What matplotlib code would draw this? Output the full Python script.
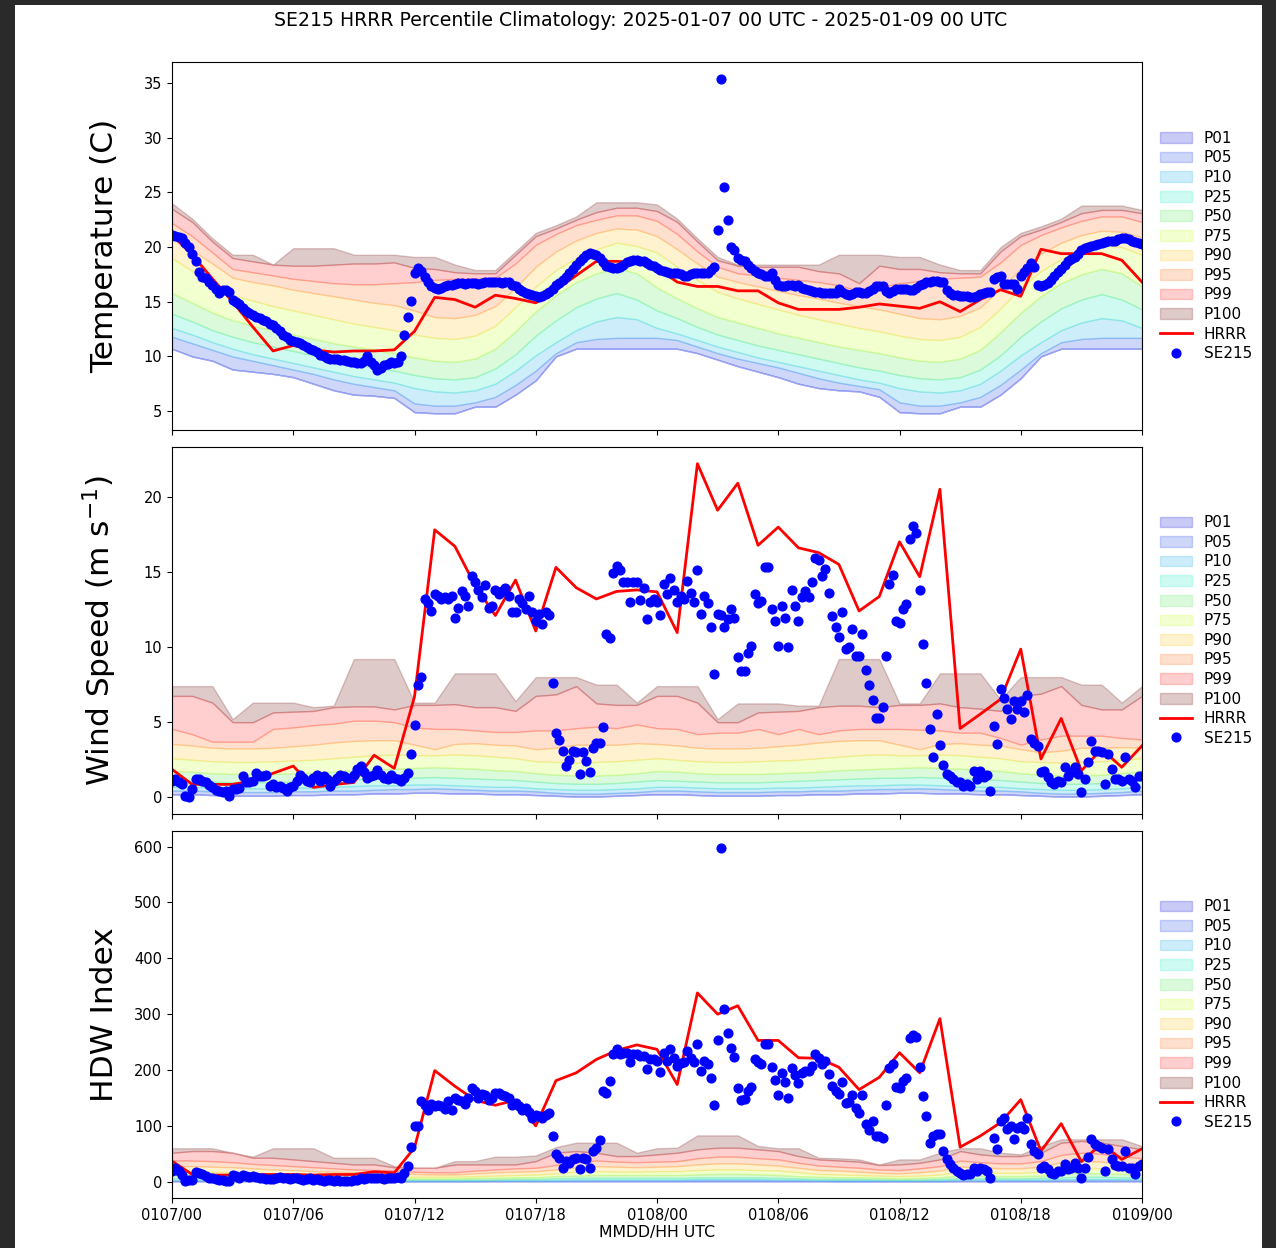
import numpy as np
import matplotlib.pyplot as plt
import matplotlib.dates as mdates
from matplotlib.patches import Rectangle

# SE215 HRRR percentile climatology, 2025-01-07 00 UTC to 2025-01-09 00 UTC.
# Climatology and HRRR are hourly (49 values), station obs every 10 minutes (289 values).

start = np.datetime64('2025-01-07T00:00')
hours = start + np.arange(49) * np.timedelta64(1, 'h')
obs_times = start + np.arange(289) * np.timedelta64(10, 'm')

pct_names = ['P01', 'P05', 'P10', 'P25', 'P50', 'P75', 'P90', 'P95', 'P99', 'P100']
pct_colors = ['#1010d8', '#2448ea', '#24b0ea', '#24eac4', '#5cea5c',
              '#c4ff24', '#ffc424', '#ff7424', '#ff2424', '#701010']

# ---- temperature (C) ----
temp_p01 = [10.7, 10.0, 9.6, 8.8, 8.6, 8.4, 8.1, 7.5, 6.9, 6.5, 6.4, 6.2, 4.9, 4.8, 4.8, 5.4, 5.4, 6.5, 7.8, 10.0, 10.7, 10.7, 10.7, 10.7, 10.7,
            10.7, 10.3, 9.7, 9.1, 8.6, 8.1, 7.5, 7.1, 6.9, 6.8, 6.3, 4.9, 4.8, 4.8, 5.4, 5.4, 6.5, 8.0, 10.0, 10.7, 10.7, 10.7, 10.7, 10.7]
temp_p05 = [11.8, 11.2, 10.6, 10.0, 9.6, 9.2, 8.8, 8.4, 7.9, 7.5, 7.2, 6.9, 5.7, 5.5, 5.5, 5.8, 6.3, 7.4, 8.7, 10.3, 11.3, 11.6, 11.7, 11.7, 11.7,
            11.5, 10.9, 10.3, 9.8, 9.4, 9.0, 8.5, 8.0, 7.6, 7.3, 7.0, 5.8, 5.5, 5.5, 5.8, 6.3, 7.4, 8.8, 10.3, 11.3, 11.6, 11.7, 11.7, 11.7]
temp_p10 = [12.6, 12.0, 11.3, 10.7, 10.2, 9.8, 9.4, 9.0, 8.6, 8.2, 7.9, 7.6, 7.1, 6.8, 6.7, 6.9, 7.5, 8.7, 10.1, 11.3, 12.4, 13.2, 13.6, 13.4, 12.6,
            12.1, 11.5, 10.9, 10.4, 9.9, 9.5, 9.1, 8.7, 8.3, 7.9, 7.6, 7.1, 6.8, 6.7, 6.9, 7.5, 8.7, 10.1, 11.3, 12.4, 13.1, 13.5, 13.3, 12.6]
temp_p25 = [13.9, 13.2, 12.4, 11.8, 11.3, 10.9, 10.5, 10.1, 9.7, 9.3, 9.0, 8.7, 8.3, 8.0, 7.9, 8.1, 8.9, 10.2, 11.9, 13.3, 14.5, 15.3, 15.8, 15.2, 14.2,
            13.5, 12.7, 12.0, 11.5, 11.0, 10.6, 10.2, 9.8, 9.4, 9.0, 8.7, 8.3, 8.0, 7.9, 8.1, 8.8, 10.1, 11.8, 13.2, 14.4, 15.2, 15.7, 15.2, 14.3]
temp_p50 = [15.8, 14.9, 14.0, 13.3, 12.8, 12.4, 12.0, 11.6, 11.2, 10.9, 10.6, 10.3, 9.9, 9.6, 9.5, 9.8, 10.7, 12.3, 14.1, 15.6, 16.8, 17.6, 18.1, 17.6, 16.3,
            15.3, 14.4, 13.6, 13.1, 12.6, 12.1, 11.7, 11.3, 10.9, 10.6, 10.3, 9.9, 9.6, 9.5, 9.8, 10.6, 12.2, 14.0, 15.5, 16.7, 17.5, 18.0, 17.6, 16.4]
temp_p75 = [19.0, 17.8, 16.6, 15.6, 15.1, 14.6, 14.2, 13.8, 13.4, 13.0, 12.7, 12.4, 12.0, 11.7, 11.6, 11.9, 12.8, 14.5, 16.4, 17.9, 19.0, 19.8, 20.4, 20.1, 19.5,
            18.2, 17.0, 15.9, 15.3, 14.8, 14.3, 13.8, 13.4, 13.0, 12.6, 12.3, 11.9, 11.6, 11.5, 11.8, 12.7, 14.4, 16.3, 17.8, 18.9, 19.7, 20.2, 20.0, 19.3]
temp_p90 = [20.9, 19.7, 18.5, 17.2, 16.8, 16.5, 16.1, 15.8, 15.5, 15.2, 14.9, 14.7, 14.2, 13.6, 13.5, 13.8, 14.6, 16.3, 18.2, 19.6, 20.6, 21.3, 21.7, 21.6, 21.0,
            19.8, 18.5, 17.3, 16.8, 16.4, 16.0, 15.6, 15.3, 14.9, 14.6, 14.3, 13.9, 13.5, 13.4, 13.7, 14.5, 16.2, 18.0, 19.4, 20.4, 21.1, 21.5, 21.4, 20.9]
temp_p95 = [22.2, 21.0, 19.5, 18.0, 17.7, 17.4, 17.1, 16.9, 16.7, 16.6, 16.6, 16.7, 16.8, 17.0, 17.1, 17.1, 17.2, 18.5, 20.2, 21.2, 22.0, 22.5, 22.9, 22.9, 22.4,
            21.2, 19.6, 18.2, 17.6, 17.4, 17.2, 17.0, 16.8, 16.5, 16.0, 16.3, 16.7, 16.9, 17.1, 17.2, 17.3, 18.6, 20.2, 21.1, 21.8, 22.4, 22.8, 22.8, 22.3]
temp_p99 = [23.5, 22.3, 20.5, 19.0, 18.7, 18.4, 18.3, 18.3, 18.4, 18.5, 18.5, 18.6, 18.1, 18.0, 17.7, 17.6, 17.6, 19.3, 21.0, 21.7, 22.5, 23.2, 23.6, 23.6, 23.3,
            22.3, 20.5, 18.8, 18.3, 18.2, 18.2, 18.2, 17.8, 17.6, 16.7, 18.3, 18.0, 18.0, 17.7, 17.6, 17.6, 19.6, 21.0, 21.6, 22.3, 23.1, 23.4, 23.4, 23.1]
temp_p100 = [24.0, 22.6, 20.8, 19.3, 19.3, 18.4, 19.9, 19.9, 19.9, 19.3, 19.3, 19.3, 19.1, 19.1, 18.4, 17.9, 17.9, 19.6, 21.3, 22.0, 22.8, 24.1, 24.1, 24.1, 23.9,
             22.6, 20.8, 19.1, 18.4, 18.4, 18.4, 18.4, 18.4, 19.3, 19.3, 19.3, 19.1, 19.1, 18.4, 17.9, 17.9, 20.0, 21.3, 21.9, 22.6, 23.8, 23.8, 23.8, 23.4]
temp_hrrr = [21.1, 19.3, 17.1, 15.0, 12.7, 10.5, 11.0, 10.6, 10.4, 10.5, 10.5, 10.6, 12.3, 15.4, 15.2, 14.5, 15.6, 15.3, 14.9, 16.1, 17.4, 18.7, 18.7, 18.6, 18.1,
             16.8, 16.4, 16.4, 16.0, 16.0, 14.9, 14.3, 14.3, 14.3, 14.5, 14.8, 14.6, 14.4, 15.0, 14.1, 15.2, 16.1, 15.5, 19.8, 19.4, 19.4, 19.4, 18.8, 16.8]
temp_obs = [
    21.1, 21.0, 20.9, 20.8, 20.4, 20.0,  19.4, 18.7, 17.7, 17.3, 17.2, 16.8,
    16.5, 16.2, 15.8, 16.1, 16.1, 15.9,  15.2, 15.0, 14.8, 14.4, 14.2, 14.0,
    13.8, 13.6, 13.5, 13.3, 13.2, 13.0,  12.9, 12.6, 12.3, 12.0, 11.8, 11.5,
    11.4, 11.3, 11.2, 11.0, 10.9, 10.7,  10.6, 10.4, 10.1, 10.0, 9.9, 9.8,
    9.8, 9.8, 9.7, 9.7, 9.6, 9.5,  9.5, 9.4, 9.4, 9.6, 10.0, 9.5,
    9.2, 8.8, 8.9, 9.2, 9.3, 9.5,  9.4, 9.5, 10.0, 12.0, 13.6, 15.1,
    17.6, 18.05, 17.8, 17.3, 16.8, 16.4,  16.3, 16.2, 16.3, 16.4, 16.5, 16.5,
    16.6, 16.7, 16.7, 16.6, 16.7, 16.7,  16.7, 16.6, 16.7, 16.8, 16.8, 16.8,
    16.8, 16.8, 16.7, 16.8, 16.8, 16.5,  16.4, 16.2, 16.0, 15.8, 15.7, 15.6,
    15.5, 15.45, 15.5, 15.7, 15.9, 16.2,  16.5, 16.7, 17.0, 17.3, 17.6, 18.0,
    18.4, 18.7, 19.0, 19.3, 19.5, 19.4,  19.3, 19.0, 18.6, 18.3, 18.2, 18.1,
    18.1, 18.2, 18.4, 18.6, 18.7, 18.8,  18.8, 18.7, 18.7, 18.5, 18.4, 18.3,
    18.05, 17.9, 17.8, 17.7, 17.6, 17.6,  17.6, 17.5, 17.4, 17.4, 17.5, 17.6,
    17.6, 17.6, 17.6, 17.6, 17.9, 18.2,  21.6, 35.4, 25.5, 22.5, 20.0, 19.7,
    19.0, 18.8, 18.7, 18.4, 18.05, 17.8,  17.6, 17.5, 17.4, 17.4, 17.6, 17.0,
    16.5, 16.4, 16.4, 16.5, 16.5, 16.4,  16.5, 16.3, 16.2, 16.1, 16.0, 15.9,
    15.9, 15.8, 15.8, 15.8, 15.8, 15.8,  16.2, 15.9, 15.7, 15.6, 15.7, 15.9,
    15.9, 15.8, 15.8, 16.0, 16.2, 16.4,  16.4, 16.4, 16.0, 15.8, 16.0, 16.2,
    16.2, 16.2, 16.2, 16.1, 16.1, 16.3,  16.5, 16.6, 16.8, 16.8, 16.9, 16.9,
    16.8, 16.8, 16.1, 15.8, 15.6, 15.6,  15.55, 15.5, 15.5, 15.4, 15.4, 15.5,
    15.7, 15.8, 15.85, 15.9, 17.1, 17.3,  17.4, 16.6, 16.6, 16.6, 16.6, 16.2,
    17.4, 17.7, 18.05, 18.5, 18.2, 16.5,  16.4, 16.5, 16.7, 17.0, 17.4, 17.7,
    18.0, 18.35, 18.7, 18.9, 19.1, 19.4,  19.7, 19.9, 20.0, 20.1, 20.2, 20.3,
    20.4, 20.5, 20.6, 20.6, 20.6, 20.7,  20.8, 20.8, 20.7, 20.6, 20.5, 20.4,
    20.3]

# ---- wind speed (m s-1) ----
wind_p01 = [0.2, 0.2, 0.15, 0.1, 0.1, 0.1, 0.15, 0.15, 0.2, 0.2, 0.25, 0.25, 0.3, 0.3, 0.25, 0.25, 0.2, 0.2, 0.15, 0.1, 0.05, 0.05, 0.1, 0.15, 0.2,
            0.2, 0.15, 0.1, 0.1, 0.1, 0.15, 0.15, 0.2, 0.2, 0.25, 0.25, 0.3, 0.3, 0.25, 0.25, 0.2, 0.2, 0.15, 0.1, 0.05, 0.05, 0.1, 0.15, 0.2]
wind_p05 = [0.45, 0.45, 0.4, 0.35, 0.35, 0.35, 0.4, 0.4, 0.45, 0.45, 0.5, 0.55, 0.55, 0.6, 0.55, 0.5, 0.45, 0.45, 0.4, 0.3, 0.25, 0.25, 0.3, 0.35, 0.45,
            0.45, 0.4, 0.35, 0.35, 0.35, 0.4, 0.4, 0.45, 0.45, 0.5, 0.55, 0.55, 0.6, 0.55, 0.5, 0.45, 0.45, 0.4, 0.3, 0.25, 0.25, 0.3, 0.35, 0.45]
wind_p10 = [0.7, 0.7, 0.65, 0.6, 0.6, 0.6, 0.65, 0.65, 0.7, 0.75, 0.8, 0.8, 0.85, 0.85, 0.8, 0.75, 0.7, 0.7, 0.6, 0.55, 0.5, 0.5, 0.55, 0.6, 0.7,
            0.7, 0.65, 0.6, 0.6, 0.6, 0.65, 0.65, 0.7, 0.75, 0.8, 0.8, 0.85, 0.85, 0.8, 0.75, 0.7, 0.7, 0.6, 0.55, 0.5, 0.5, 0.55, 0.6, 0.7]
wind_p25 = [1.15, 1.1, 1.05, 1.0, 1.0, 1.0, 1.05, 1.1, 1.15, 1.2, 1.25, 1.3, 1.3, 1.35, 1.3, 1.25, 1.2, 1.15, 1.05, 0.95, 0.9, 0.9, 0.95, 1.05, 1.15,
            1.1, 1.05, 1.0, 1.0, 1.0, 1.05, 1.1, 1.15, 1.2, 1.25, 1.3, 1.3, 1.35, 1.3, 1.25, 1.2, 1.15, 1.05, 0.95, 0.9, 0.9, 0.95, 1.05, 1.15]
wind_p50 = [1.75, 1.7, 1.6, 1.55, 1.55, 1.55, 1.6, 1.65, 1.7, 1.8, 1.85, 1.9, 1.95, 2.0, 1.95, 1.9, 1.8, 1.75, 1.6, 1.5, 1.45, 1.45, 1.5, 1.6, 1.75,
            1.7, 1.6, 1.55, 1.55, 1.55, 1.6, 1.65, 1.7, 1.8, 1.85, 1.9, 1.95, 2.0, 1.95, 1.9, 1.8, 1.75, 1.6, 1.5, 1.45, 1.45, 1.5, 1.6, 1.75]
wind_p75 = [2.6, 2.5, 2.4, 2.35, 2.35, 2.4, 2.45, 2.5, 2.6, 2.7, 2.8, 2.85, 2.8, 2.8, 2.85, 2.8, 2.7, 2.6, 2.4, 2.35, 2.3, 2.35, 2.4, 2.5, 2.6,
            2.5, 2.4, 2.35, 2.35, 2.4, 2.45, 2.5, 2.6, 2.7, 2.8, 2.85, 2.8, 2.8, 2.85, 2.8, 2.7, 2.6, 2.4, 2.35, 2.3, 2.35, 2.4, 2.5, 2.6]
wind_p90 = [3.55, 3.45, 3.3, 3.25, 3.25, 3.3, 3.4, 3.5, 3.65, 3.75, 3.8, 3.8, 3.5, 3.2, 3.55, 3.6, 3.5, 3.45, 3.2, 3.3, 3.5, 3.5, 3.5, 3.6, 3.55,
            3.45, 3.3, 3.25, 3.25, 3.3, 3.4, 3.5, 3.65, 3.75, 3.8, 3.8, 3.5, 3.2, 3.55, 3.6, 3.5, 3.45, 3.2, 3.0, 3.1, 3.3, 3.3, 3.35, 3.3]
wind_p95 = [4.55, 4.2, 3.7, 3.7, 3.7, 4.55, 4.65, 4.8, 4.9, 5.1, 5.1, 5.0, 4.65, 4.55, 4.55, 4.45, 4.35, 4.35, 4.45, 4.45, 4.6, 4.7, 4.6, 4.85, 4.6,
            4.55, 4.2, 4.3, 4.3, 4.55, 4.2, 4.55, 4.2, 4.45, 4.55, 4.55, 4.55, 4.5, 4.45, 4.3, 4.3, 3.95, 3.5, 3.85, 4.1, 4.1, 4.1, 3.95, 3.85]
wind_p99 = [6.75, 6.75, 6.3, 5.0, 5.0, 5.65, 5.7, 5.75, 6.0, 6.05, 6.05, 5.85, 6.15, 6.15, 6.2, 6.0, 6.0, 5.75, 6.75, 6.85, 7.4, 6.25, 6.15, 6.15, 6.75,
            6.75, 6.3, 5.0, 5.0, 5.65, 5.7, 5.75, 6.0, 6.1, 6.1, 6.0, 6.15, 6.15, 6.25, 6.0, 5.9, 5.75, 6.75, 6.9, 7.4, 6.15, 5.85, 5.85, 6.75]
wind_p100 = [7.4, 7.4, 7.4, 5.2, 6.3, 6.3, 6.3, 6.0, 6.1, 9.2, 9.2, 9.2, 6.3, 6.3, 8.25, 8.25, 8.25, 6.4, 8.0, 8.0, 8.0, 7.5, 7.5, 6.3, 7.4,
             7.4, 7.4, 5.2, 6.25, 6.25, 6.25, 6.1, 6.1, 9.2, 9.2, 9.2, 6.25, 6.25, 8.25, 8.25, 8.25, 6.5, 8.0, 8.0, 8.0, 7.5, 7.5, 6.3, 7.4]
wind_hrrr = [1.86, 0.86, 0.86, 0.86, 1.1, 1.6, 2.08, 0.66, 0.85, 0.99, 2.8, 1.93, 6.7, 17.8, 16.7, 14.1, 12.1, 14.46, 11.07, 15.3, 13.95, 13.2, 13.7, 13.8, 13.67,
             10.96, 22.2, 19.1, 20.9, 16.77, 17.98, 16.6, 16.28, 15.5, 12.4, 13.36, 17.0, 14.68, 20.5, 4.58, 5.54, 6.53, 9.86, 2.55, 5.25, 1.77, 3.21, 2.0, 3.43]
wind_obs = [
    1.1, 1.2, 1.0, 0.9, 0.1, 0.0,  0.55, 1.2, 1.2, 1.1, 1.0, 0.8,
    0.66, 0.5, 0.44, 0.33, 0.44, 0.1,  0.55, 0.55, 0.6, 1.4, 1.0, 1.05,
    1.08, 1.64, 1.4, 1.4, 1.5, 0.77,  0.9, 0.66, 0.77, 0.6, 0.44, 0.7,
    0.77, 1.1, 1.5, 1.3, 1.1, 1.0,  1.3, 1.5, 1.1, 1.4, 1.2, 0.77,
    1.1, 1.3, 1.5, 1.4, 1.3, 1.3,  1.5, 1.9, 2.1, 1.7, 1.3, 1.4,
    1.5, 1.8, 1.5, 1.3, 1.2, 1.5,  1.3, 1.2, 1.1, 1.3, 1.6, 2.9,
    4.8, 7.5, 8.0, 13.2, 12.9, 12.4,  13.5, 13.4, 13.2, 13.3, 13.2, 13.4,
    11.9, 12.6, 13.7, 13.4, 12.7, 14.7,  14.3, 13.8, 13.3, 14.1, 12.6, 12.7,
    13.8, 13.5, 13.7, 13.9, 13.4, 12.3,  12.3, 13.2, 12.9, 12.5, 13.4, 12.3,
    11.7, 12.2, 11.5, 12.3, 12.1, 7.6,  4.3, 3.8, 3.1, 2.1, 2.5, 3.1,
    3.0, 1.55, 3.0, 2.4, 1.66, 3.3,  3.6, 3.6, 4.65, 10.85, 10.6, 14.95,
    15.4, 15.1, 14.3, 14.3, 13.0, 14.3,  14.3, 13.1, 13.95, 11.85, 13.0, 13.2,
    13.0, 12.1, 14.2, 13.5, 14.6, 13.8,  13.0, 13.4, 13.2, 14.4, 13.6, 13.0,
    15.1, 12.2, 13.4, 12.9, 11.3, 8.2,  12.2, 12.1, 11.3, 11.85, 12.56, 11.9,
    9.35, 8.4, 8.4, 9.57, 10.1, 13.5,  12.9, 13.07, 15.3, 15.3, 12.56, 11.74,
    10.1, 12.7, 11.96, 9.97, 13.8, 12.7,  11.74, 13.3, 13.7, 13.3, 14.3, 15.95,
    15.8, 14.7, 15.2, 13.6, 12.07, 11.3,  10.7, 12.3, 9.86, 9.97, 11.2, 9.4,
    9.4, 10.85, 8.5, 7.5, 6.5, 5.3,  5.3, 5.98, 9.4, 14.2, 14.8, 11.74,
    11.6, 12.5, 12.85, 17.2, 18.05, 17.6,  13.8, 10.2, 7.6, 4.54, 2.66, 5.54,
    3.48, 2.15, 1.55, 1.44, 1.2, 1.0,  1.0, 0.78, 0.9, 0.78, 1.77, 1.2,
    1.77, 1.33, 1.5, 0.44, 4.76, 3.54,  7.24, 6.58, 5.87, 5.2, 6.42, 5.87,
    6.42, 5.65, 6.8, 3.88, 3.6, 3.43,  1.7, 1.77, 1.33, 1.0, 0.89, 1.1,
    1.0, 2.0, 1.44, 1.66, 2.0, 1.55,  0.33, 1.2, 2.33, 3.77, 3.1, 3.1,
    3.0, 0.89, 2.88, 1.88, 1.2, 1.2,  1.1, 2.66, 1.2, 1.1, 0.66, 1.44,
    1.4]

# ---- Hot-Dry-Windy index ----
hdw_p01 = [1, 1, 1, 1, 1, 1, 1, 1, 1, 0.8, 0.8, 0.8, 0.8, 0.8, 0.8, 0.8, 1, 1, 1, 1, 1, 1, 1, 1, 1,
           1, 1, 1, 1, 1, 1, 1, 1, 0.8, 0.8, 0.8, 0.8, 0.8, 0.8, 1, 1, 1, 1, 1, 1, 1, 1, 1, 1]
hdw_p05 = [2.5, 2.5, 2.5, 2, 2, 2, 2, 2, 2, 2, 1.8, 1.8, 1.8, 1.8, 1.8, 1.8, 2, 2, 2, 2, 2.5, 2.5, 2.5, 2.5, 2.5,
           2.5, 3, 3, 3, 3, 2.5, 2.5, 2, 2, 2, 1.8, 1.8, 1.8, 2, 2.5, 2.5, 2.5, 2.5, 2.5, 3, 3, 3, 3, 3]
hdw_p10 = [4, 4, 4, 4, 3, 3, 3, 3, 3, 3, 2.5, 2.5, 2.5, 2.5, 2.5, 2.5, 3, 3, 3, 3, 4, 4, 4, 4, 4,
           4, 5, 5, 5, 5, 4, 4, 3, 3, 3, 3, 2.5, 2.5, 3, 4, 4, 4, 4, 4, 5, 5, 5, 5, 5]
hdw_p25 = [7, 7, 7, 6, 6, 6, 5, 5, 5, 4, 4, 4, 4, 4, 4, 4, 4, 5, 5, 6, 7, 7, 7, 7, 7,
           7, 8, 8, 8, 8, 7, 6, 5, 5, 5, 4, 4, 4, 5, 6, 6, 6, 6, 7, 8, 9, 9, 8, 8]
hdw_p50 = [12, 12, 11, 11, 10, 10, 9, 8, 8, 7, 7, 6, 6, 6, 6, 7, 7, 8, 8, 10, 11, 12, 12, 12, 12,
           12, 13, 14, 14, 13, 12, 10, 9, 8, 8, 7, 6, 7, 8, 11, 11, 10, 10, 11, 14, 16, 15, 14, 13]
hdw_p75 = [19, 19, 18, 17, 16, 15, 14, 13, 12, 11, 11, 10, 9, 9, 9, 10, 11, 12, 13, 15, 18, 19, 18, 18, 19,
           19, 21, 22, 22, 21, 20, 17, 14, 13, 12, 11, 10, 11, 13, 18, 17, 16, 16, 18, 23, 25, 24, 22, 21]
hdw_p90 = [28, 28, 27, 26, 24, 22, 21, 19, 18, 17, 16, 15, 14, 13, 13, 15, 17, 18, 19, 22, 26, 28, 27, 26, 27,
           28, 31, 33, 33, 31, 29, 25, 21, 20, 18, 16, 15, 17, 20, 27, 26, 24, 24, 27, 35, 38, 36, 33, 31]
hdw_p95 = [38, 38, 37, 35, 32, 30, 28, 26, 24, 22, 21, 20, 18, 17, 17, 20, 22, 24, 25, 30, 35, 38, 36, 35, 36,
           37, 42, 45, 45, 42, 40, 34, 29, 27, 25, 22, 21, 24, 28, 38, 35, 33, 33, 37, 48, 52, 50, 46, 42]
hdw_p99 = [52, 55, 55, 52, 43, 43, 40, 37, 34, 31, 31, 26, 25, 25, 31, 31, 31, 31, 37, 52, 55, 52, 46, 46, 49,
           52, 58, 61, 61, 58, 55, 46, 40, 38, 36, 30, 31, 34, 40, 55, 49, 46, 46, 52, 70, 73, 70, 64, 58]
hdw_p100 = [60, 60, 60, 52, 45, 60, 60, 60, 43, 43, 43, 28, 25, 25, 37, 37, 45, 45, 47, 62, 70, 70, 70, 52, 60,
            61, 83, 83, 83, 64, 60, 60, 43, 42, 40, 31, 40, 40, 52, 60, 60, 52, 49, 64, 76, 76, 76, 76, 64]
hdw_hrrr = [37, 13, 12, 12, 13, 13, 13, 12, 13, 13, 18, 16, 61, 199, 171, 146, 137, 146, 100, 181, 195, 219, 235, 245, 237,
            174, 338, 300, 315, 253, 253, 222, 221, 205, 165, 187, 231, 195, 292, 62, 82, 106, 147, 55, 104, 36, 68, 40, 59]
hdw_obs = [
    19, 25, 20, 13, 2, 4,  4, 18, 16, 14, 10, 7,
    7, 5, 4, 3, 2, 2,  12, 10, 7, 12, 10, 8,
    10, 8, 6, 6, 5, 5,  5, 6, 8, 7, 6, 5,
    6, 7, 5, 4, 5, 6,  4, 5, 3, 2, 3, 3,
    2, 3, 2, 2, 2, 2,  3, 4, 6, 5, 6, 7,
    6, 7, 6, 5, 6, 7,  7, 8, 7, 16, 28, 62,
    100, 100, 145, 138, 128, 140,  135, 138, 135, 130, 144, 129,
    150, 146, 144, 140, 150, 168,  162, 150, 157, 155, 147, 150,
    159, 159, 156, 153, 150, 138,  141, 135, 129, 132, 125, 115,
    120, 118, 115, 120, 123, 82,  49, 43, 25, 37, 34, 40,
    43, 22, 43, 40, 25, 55,  61, 74, 163, 159, 180, 228,
    238, 229, 231, 231, 215, 228,  229, 225, 226, 201, 219, 219,
    216, 197, 231, 217, 237, 222,  207, 213, 215, 234, 221, 215,
    246, 199, 216, 211, 186, 138,  253, 598, 310, 267, 240, 223,
    167, 146, 149, 162, 169, 219,  215, 211, 246, 246, 205, 183,
    156, 195, 179, 150, 204, 191,  177, 195, 198, 198, 207, 228,
    222, 210, 216, 193, 171, 162,  157, 179, 141, 143, 155, 132,
    123, 156, 103, 92, 109, 82,  82, 79, 137, 204, 210, 169,
    168, 180, 186, 258, 262, 259,  205, 153, 117, 70, 82, 85,
    86, 55, 41, 31, 25, 19,  16, 13, 14, 14, 25, 19,
    25, 22, 20, 7, 79, 58,  109, 115, 94, 100, 76, 97,
    100, 94, 115, 68, 55, 49,  25, 28, 22, 16, 14, 19,
    19, 32, 22, 25, 34, 25,  6, 25, 44, 76, 67, 64,
    60, 19, 58, 40, 30, 28,  28, 55, 25, 25, 14, 28,
    31]

panels = [
    ([temp_p01, temp_p05, temp_p10, temp_p25, temp_p50, temp_p75, temp_p90, temp_p95, temp_p99, temp_p100],
     temp_hrrr, temp_obs, 'Temperature (C)'),
    ([wind_p01, wind_p05, wind_p10, wind_p25, wind_p50, wind_p75, wind_p90, wind_p95, wind_p99, wind_p100],
     wind_hrrr, wind_obs, 'Wind Speed (m s$^{-1}$)'),
    ([hdw_p01, hdw_p05, hdw_p10, hdw_p25, hdw_p50, hdw_p75, hdw_p90, hdw_p95, hdw_p99, hdw_p100],
     hdw_hrrr, hdw_obs, 'HDW Index'),
]

W, H = 1276, 1248
fig = plt.figure(figsize=(W / 100, H / 100), dpi=100, facecolor='#2a2a2a')
# white page inside the dark screenshot border
fig.patches.append(Rectangle((15 / W, 0), (1262 - 15) / W, 1243 / H,
                             transform=fig.transFigure, facecolor='white',
                             edgecolor='none', zorder=-5))

boxes = [(62, 430), (447, 814), (831, 1198)]
axes = []
for i, (levels, hrrr, obs, ylabel) in enumerate(panels):
    top, bot = boxes[i]
    ax = fig.add_axes([172 / W, 1 - bot / H, 970 / W, (bot - top) / H],
                      sharex=axes[0] if axes else None)
    axes.append(ax)

    # percentile bands
    ax.fill_between(hours, levels[0], levels[0], color=pct_colors[0],
                    alpha=0.22, lw=1, label=pct_names[0])
    for k in range(1, len(levels)):
        ax.fill_between(hours, levels[k - 1], levels[k], color=pct_colors[k],
                        alpha=0.22, lw=1, label=pct_names[k])

    ax.plot(hours, hrrr, color='red', lw=2, label='HRRR')
    ax.plot(obs_times, obs, 'o', color='blue', ms=6.3, label='SE215')

    ax.set_ylabel(ylabel, fontsize=22.5)
    ax.yaxis.set_label_coords(-0.055, 0.5)
    ax.tick_params(labelsize=10.5)
    ax.legend(loc='center left', bbox_to_anchor=(1.004, 0.5), frameon=False,
              fontsize=11, labelspacing=0.3, handlelength=2.1)
    if i < 2:
        plt.setp(ax.get_xticklabels(), visible=False)

ax = axes[-1]
ax.set_xlim(hours[0], hours[-1])
ax.xaxis.set_major_locator(mdates.HourLocator(byhour=range(0, 24, 6)))
ax.xaxis.set_major_formatter(mdates.DateFormatter('%m%d/%H'))
ax.set_xlabel('MMDD/HH UTC', fontsize=11.3, labelpad=2)

fig.text(641 / W, 1 - 20 / H,
         'SE215 HRRR Percentile Climatology: 2025-01-07 00 UTC - 2025-01-09 00 UTC',
         ha='center', va='center', fontsize=13.6)

fig.savefig('out.png', dpi=100, facecolor=fig.get_facecolor())
